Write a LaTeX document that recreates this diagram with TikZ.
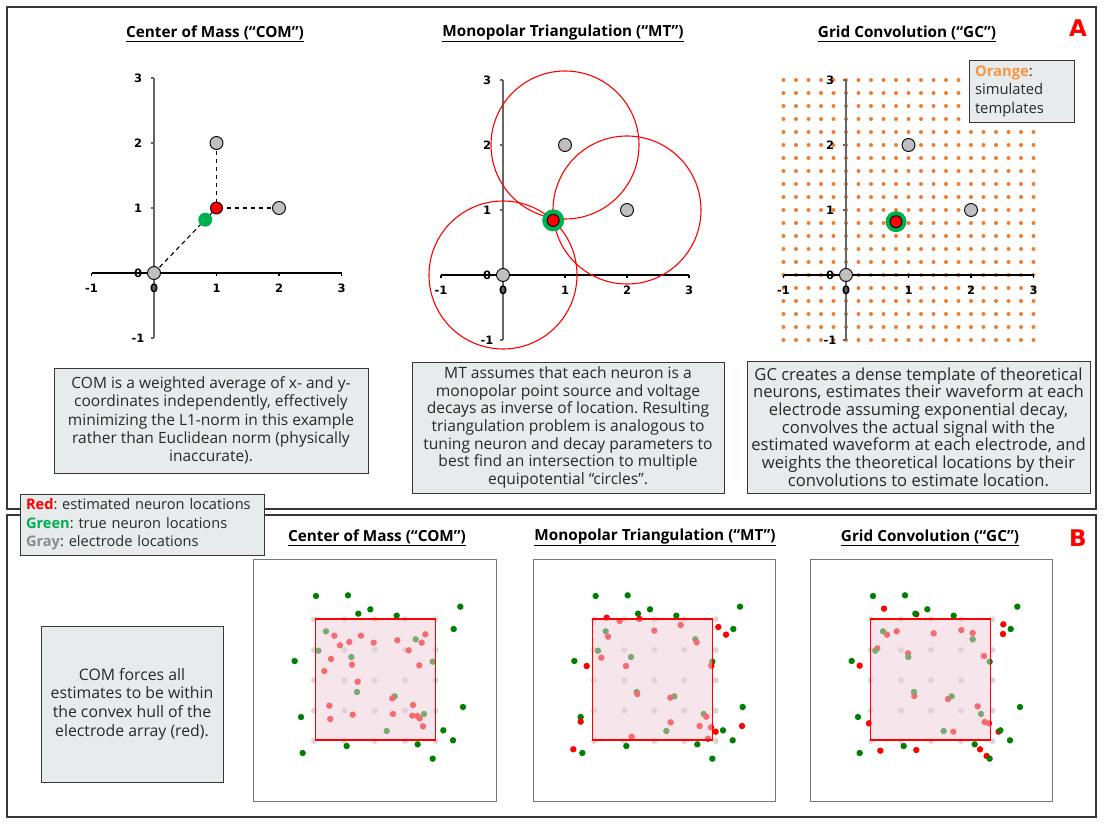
\documentclass[tikz,border=0pt]{standalone}
\usepackage{fontspec}
\setmainfont{Open Sans}
\newfontfamily\axisfont{DejaVu Sans}
\usetikzlibrary{backgrounds}
\frenchspacing
\definecolor{boxgray}{RGB}{231,235,235}
\definecolor{textc}{RGB}{40,40,40}
\definecolor{framec}{RGB}{55,55,55}
\definecolor{elecgray}{RGB}{191,191,191}
\definecolor{tgreen}{RGB}{0,176,80}
\definecolor{dgreen}{RGB}{0,128,0}
\definecolor{orangedot}{RGB}{237,125,49}
\definecolor{orangetxt}{RGB}{247,150,70}
\definecolor{graytxt}{RGB}{140,140,140}
\definecolor{hullpink}{RGB}{238,206,217}
\definecolor{bgelec}{RGB}{215,215,215}
\definecolor{plotframe}{RGB}{120,120,120}
\newcommand\plotaxes[1]{%
  \draw[xax] (-1,0) -- (3,0);
  \foreach \i in {-1,1,2,3} \draw[xax] (\i,0) -- ++(0,-3pt);
  \draw[yax] (0,-1) -- (0,3);
  \foreach \i in {-1,1,2,3} \draw[yax] (0,\i) -- ++(-3pt,0);
  \foreach \i in {-1,0,1,2,3} \node[ticklab] (#1x\i) at ([yshift=-15pt]\i,0) {\i};
  \foreach \i in {-1,0,1,2,3} \node[ticklab] (#1y\i) at ([xshift=-16pt]0,\i) {\i};
}
\newcommand\truedots[1]{%
  \foreach \p/\q in {198/138,294/136,325/191,361/178,440/197,631/170,611/237,134/333,639/471,153/501,158/609,290/588,503/583,580/541,609/571,548/626,228/244,205/302,304/321,497/268,548/335,321/426,434/439,522/492,410/543}
    \fill[dgreen] ({\p+#1},\q) circle[radius=3.2pt];}
\newcommand\elecgrid[2]{%
  \foreach \gx in {#1} \foreach \gy in {#2} \fill[bgelec] (\gx,\gy) circle[radius=3pt];}
\begin{document}
\begin{tikzpicture}[x=1pt,y=-1pt,
  panel/.style={draw=framec,line width=1.8pt},
  txtbox/.style={draw=framec,fill=boxgray,line width=0.9pt,align=center,text=textc,inner sep=0pt,font=\fontsize{15.5}{18.3}\selectfont},
  ptitle/.style={font=\bfseries\fontsize{15.3}{16}\selectfont,text=black,inner sep=0pt},
  letter/.style={font=\axisfont\bfseries\fontsize{23}{25}\selectfont,text=red,inner sep=0pt},
  ticklab/.style={font=\axisfont\bfseries\fontsize{11.5}{12}\selectfont,inner sep=0pt},
  elec/.style={circle,draw=black,fill=elecgray,line width=0.9pt,minimum size=13pt,inner sep=0pt},
  est/.style={circle,draw=black,fill=red,line width=0.9pt,minimum size=12pt,inner sep=0pt},
  truedot/.style={circle,fill=tgreen,minimum size=14pt,inner sep=0pt},
  ring/.style={circle,fill=tgreen,minimum size=22pt,inner sep=0pt},
  xax/.style={draw=black,line width=1.1pt},
  yax/.style={draw=black!60,line width=1.1pt},
  mtcirc/.style={draw=red,line width=1.1pt},
  guide/.style={draw=black,line width=1.1pt,dash pattern=on 4.5pt off 3.5pt},
  uline/.style={draw=black,line width=0.9pt},
]
\useasboundingbox (0,0) rectangle (1104,824);
\begin{pgfonlayer}{background}
  \fill[white] (0,0) rectangle (1104,824);
\end{pgfonlayer}
% panels
\draw[panel] (7,7) rectangle (1096,509);
\draw[panel] (7,515) rectangle (1096,817);
\node[letter] (labA) at (1078,28) {A};
\node[letter] (labB) at (1078,538) {B};

% ---------- top titles
\node[ptitle] (t1) at (215,33) {Center of Mass (“COM”)};
\node[ptitle] (t2) at (563,33) {Monopolar Triangulation (“MT”)};
\node[ptitle] (t3) at (907,33) {Grid Convolution (“GC”)};
\foreach \t in {t1,t2,t3} \draw[uline] ([yshift=-1pt]\t.south west) -- ([yshift=-1pt]\t.south east);

% ---------- COM plot
\begin{scope}[shift={(154,273)},x=62.5pt,y=65pt]
  \plotaxes{com}
  \node[elec] (c00) at (0,0) {};
  \node[elec] (c12) at (1,2) {};
  \node[elec] (c21) at (2,1) {};
  \node[est] (cest) at (1,1) {};
  \node[truedot] (ctrue) at (0.82,0.82) {};
  \begin{pgfonlayer}{background}
    \draw[guide] (c00.center) -- (cest.center);
    \draw[guide] (c12.center) -- (cest.center);
    \draw[guide] (c21.center) -- (cest.center);
  \end{pgfonlayer}
\end{scope}

% ---------- MT plot
\begin{scope}[shift={(503,275)},x=62pt,y=65pt]
  \plotaxes{mt}
  \node[elec] (m00) at (0,0) {};
  \node[elec] (m12) at (1,2) {};
  \node[elec] (m21) at (2,1) {};
  \draw[mtcirc] (m00.center) circle[radius=74pt];
  \draw[mtcirc] (m12.center) circle[radius=74pt];
  \draw[mtcirc] (m21.center) circle[radius=74pt];
  \node[ring] (mtrue) at (0.81,0.84) {};
  \node[est] (mest) at (0.81,0.84) {};
\end{scope}

% ---------- GC plot
\begin{scope}[shift={(846,275)},x=62.5pt,y=65pt]
  \foreach \i in {0,...,20} \foreach \j in {0,...,20}
    \fill[orangedot] ({-1+0.2*\i},{-1+0.2*\j}) circle[radius=2pt];
  \plotaxes{gc}
  \node[elec] (g00) at (0,0) {};
  \node[elec] (g12) at (1,2) {};
  \node[elec] (g21) at (2,1) {};
  \node[ring,minimum size=21pt] (gtrue) at (0.8,0.82) {};
  \node[est] (gest) at (0.8,0.82) {};
\end{scope}
\node[draw=framec,fill=boxgray,line width=0.9pt,text width=93pt,inner xsep=6pt,inner ysep=0pt,minimum height=62pt,align=left,text=textc,font=\fontsize{14.8}{18.5}\selectfont] (oleg) at (1021.5,91) {\textcolor{orangetxt}{\bfseries Orange}:\\simulated\\templates};

% ---------- top text boxes
\node[txtbox,minimum width=314pt,minimum height=105pt] (bcom) at (211,420.5) {COM is a weighted average of x- and y-\\coordinates independently, effectively\\minimizing the L1-norm in this example\\rather than Euclidean norm (physically\\inaccurate).};
\node[txtbox,minimum width=312pt,minimum height=131pt,font=\fontsize{15.6}{17.7}\selectfont] (bmt) at (568,427.5) {MT assumes that each neuron is a\\monopolar point source and voltage\\decays as inverse of location. Resulting\\triangulation problem is analogous to\\tuning neuron and decay parameters to\\best find an intersection to multiple\\equipotential “circles”.};
\node[txtbox,minimum width=343pt,minimum height=132pt,font=\fontsize{16.6}{17.7}\selectfont] (bgc) at (918.5,427) {GC creates a dense template of theoretical\\neurons, estimates their waveform at each\\electrode assuming exponential decay,\\convolves the actual signal with the\\estimated waveform at each electrode, and\\weights the theoretical locations by their\\convolutions to estimate location.};

% ---------- legend
\node[draw=framec,fill=boxgray,line width=0.9pt,text width=232pt,inner xsep=6pt,inner ysep=0pt,minimum height=61pt,align=left,text=textc,font=\fontsize{14.6}{18.5}\selectfont] (leg) at (142,524.5) {\textcolor{red}{\bfseries Red}: estimated neuron locations\\\textcolor{tgreen}{\bfseries Green}: true neuron locations\\\textcolor{graytxt}{\bfseries Gray}: electrode locations};

% ---------- bottom
\node[ptitle] (b1) at (377,537) {Center of Mass (“COM”)};
\node[ptitle] (b2) at (655,537) {Monopolar Triangulation (“MT”)};
\node[ptitle] (b3) at (930,537) {Grid Convolution (“GC”)};
\foreach \t in {b1,b2,b3} \draw[uline] ([yshift=-1pt]\t.south west) -- ([yshift=-1pt]\t.south east);

\node[txtbox,minimum width=182pt,minimum height=156pt,font=\fontsize{15.8}{18.7}\selectfont] (bnote) at (132,704) {COM forces all\\estimates to be within\\the convex hull of the\\electrode array (red).};

% box 1 COM
\begin{scope}[shift={(250,550)},x=0.33333pt,y=-0.33333pt]
  \draw[plotframe,line width=1pt] (10,27) rectangle (740,755);
  \elecgrid{192,283,374,465,557}{208,300,391,482,573}
  \truedots{0}
  \foreach \p/\q in {253/257,333/257,298/276,270/286,371/278,442/271,526/253,515/278,476/301,243/327,306/344,223/363,508/346,323/395,427/445,238/467,241/507,308/494,429/492,489/465,487/497,502/498,509/505,519/529}
    \fill[red] (\p,\q) circle[radius=3.2pt];
  \fill[hullpink,fill opacity=0.52] (197,207) rectangle (557,570);
  \draw[red,line width=1.3pt] (197,207) rectangle (557,570);
\end{scope}

% box 2 MT
\begin{scope}[shift={(530,550)},x=0.33333pt,y=-0.33333pt]
  \draw[plotframe,line width=1pt] (10,27) rectangle (737,755);
  \elecgrid{192,283,373,463,557}{208,300,391,482,573}
  \truedots{-1}
  \foreach \p/\q in {230/203,328/207,565/231,588/254,170/348,152/515,130/598,557/545,636/528,269/213,234/260,373/242,452/225,500/277,214/323,288/348,544/347,322/432,421/443,529/500,422/517,509/528,543/532,534/566,305/560}
    \fill[red] (\p,\q) circle[radius=3.2pt];
  \fill[hullpink,fill opacity=0.52] (187,207) rectangle (548,570);
  \draw[red,line width=1.3pt] (187,207) rectangle (548,570);
\end{scope}

% box 3 GC
\begin{scope}[shift={(805,550)},x=0.33333pt,y=-0.33333pt]
  \draw[plotframe,line width=1pt] (17,27) rectangle (743,755);
  \elecgrid{198,288,378,468,562}{208,300,391,482,573}
  \foreach \p/\q in {237/176,334/193,595/223,594/252,164/347,192/520,226/602,334/600,581/545,525/598,545/618,246/254,275/244,386/250,469/240,503/249,217/295,309/310,537/318,328/438,429/447,518/469,539/516,552/520,445/545}
    \fill[red] (\p,\q) circle[radius=3.2pt];
  \truedots{6}
  \fill[hullpink,fill opacity=0.52] (196,207) rectangle (557,570);
  \draw[red,line width=1.3pt] (196,207) rectangle (557,570);
\end{scope}
\end{tikzpicture}
\end{document}
